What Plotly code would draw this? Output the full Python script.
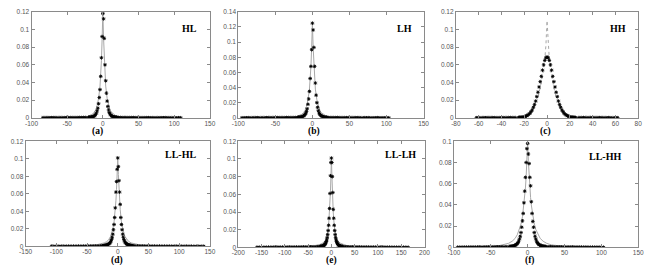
import plotly.graph_objects as go

W, H = 654, 265

# ---------------- data ----------------
# (a) HL
a_core_x = list(range(-20, 21))
a_core_y = [0.0006, 0.0007, 0.0008, 0.0009, 0.0010, 0.0012, 0.0015, 0.0018, 0.0022, 0.0030,
            0.0040, 0.0055, 0.0080, 0.0110, 0.0160, 0.0230, 0.0320, 0.0470, 0.0680, 0.0920,
            0.1180,
            0.1120, 0.0900, 0.0600, 0.0420, 0.0280, 0.0190, 0.0130, 0.0090, 0.0060, 0.0045,
            0.0033, 0.0025, 0.0019, 0.0015, 0.0012, 0.0010, 0.0009, 0.0008, 0.0007, 0.0006]
a_tail_lx = list(range(-84, -21, 3))
a_tail_ly = [0.0002, 0.0002, 0.0003, 0.0002, 0.0003, 0.0003, 0.0003, 0.0002, 0.0003, 0.0003,
             0.0003, 0.0004, 0.0003, 0.0004, 0.0004, 0.0004, 0.0004, 0.0005, 0.0004, 0.0005, 0.0005]
a_tail_rx = list(range(22, 111, 3))
a_tail_ry = [0.0005, 0.0005, 0.0004, 0.0005, 0.0004, 0.0004, 0.0004, 0.0004, 0.0003, 0.0004,
             0.0003, 0.0003, 0.0003, 0.0003, 0.0003, 0.0002, 0.0003, 0.0002, 0.0003, 0.0002,
             0.0002, 0.0002, 0.0003, 0.0002, 0.0002, 0.0002, 0.0002, 0.0001, 0.0002, 0.0002]
a_fit_x = [-85, -60, -45, -35, -28, -22, -18, -15, -12, -10, -8, -6, -4, -3, -2, -1, 0,
           1, 2, 3, 4, 6, 8, 10, 12, 15, 18, 22, 28, 35, 45, 60, 85, 110]
a_fit_y = [0.0001, 0.0002, 0.0004, 0.0007, 0.0011, 0.0016, 0.0025, 0.0040, 0.0065, 0.0090,
           0.0140, 0.0220, 0.0360, 0.0480, 0.0650, 0.0900, 0.1200,
           0.0900, 0.0650, 0.0480, 0.0360, 0.0220, 0.0140, 0.0090, 0.0065, 0.0040, 0.0025,
           0.0016, 0.0011, 0.0007, 0.0004, 0.0002, 0.0001, 0.0001]

# (b) LH
b_core_x = list(range(-20, 21))
b_core_y = [0.0006, 0.0007, 0.0008, 0.0009, 0.0011, 0.0013, 0.0016, 0.0020, 0.0026, 0.0034,
            0.0045, 0.0060, 0.0085, 0.0120, 0.0180, 0.0250, 0.0350, 0.0520, 0.0680, 0.0900,
            0.1250,
            0.1160, 0.0930, 0.0680, 0.0460, 0.0300, 0.0200, 0.0140, 0.0095, 0.0065, 0.0048,
            0.0036, 0.0028, 0.0022, 0.0017, 0.0014, 0.0011, 0.0009, 0.0008, 0.0007, 0.0006]
b_tail_lx = list(range(-95, -21, 3))
b_tail_ly = [0.0002, 0.0002, 0.0002, 0.0003, 0.0002, 0.0003, 0.0003, 0.0003, 0.0002, 0.0003,
             0.0003, 0.0003, 0.0004, 0.0003, 0.0004, 0.0004, 0.0004, 0.0004, 0.0005, 0.0004,
             0.0005, 0.0005, 0.0005, 0.0005, 0.0005]
b_tail_rx = list(range(22, 106, 3))
b_tail_ry = [0.0005, 0.0005, 0.0005, 0.0004, 0.0005, 0.0004, 0.0004, 0.0004, 0.0003, 0.0004,
             0.0003, 0.0003, 0.0003, 0.0003, 0.0003, 0.0002, 0.0003, 0.0002, 0.0003, 0.0002,
             0.0002, 0.0002, 0.0003, 0.0002, 0.0002, 0.0002, 0.0002, 0.0002]
b_fit_x = [-95, -60, -45, -35, -28, -22, -18, -15, -12, -10, -8, -6, -4, -3, -2, -1, 0,
           1, 2, 3, 4, 6, 8, 10, 12, 15, 18, 22, 28, 35, 45, 60, 80, 105]
b_fit_y = [0.0001, 0.0002, 0.0004, 0.0007, 0.0012, 0.0018, 0.0028, 0.0043, 0.0070, 0.0098,
           0.0150, 0.0240, 0.0380, 0.0510, 0.0680, 0.0930, 0.1250,
           0.0930, 0.0680, 0.0510, 0.0380, 0.0240, 0.0150, 0.0098, 0.0070, 0.0043, 0.0028,
           0.0018, 0.0012, 0.0007, 0.0004, 0.0002, 0.0001, 0.0001]

# (c) HH
c_core_x = list(range(-25, 26))
c_core_y = [0.0005, 0.0006, 0.0007, 0.0008, 0.0010, 0.0013, 0.0017, 0.0023, 0.0030, 0.0040,
            0.0052, 0.0070, 0.0090, 0.0120, 0.0150, 0.0190, 0.0240, 0.0290, 0.0350, 0.0410,
            0.0470, 0.0540, 0.0600, 0.0650, 0.0680,
            0.0690,
            0.0680, 0.0650, 0.0600, 0.0540, 0.0470, 0.0410, 0.0350, 0.0290, 0.0240, 0.0190,
            0.0150, 0.0120, 0.0090, 0.0070, 0.0052, 0.0040, 0.0030, 0.0023, 0.0017, 0.0013,
            0.0010, 0.0008, 0.0007, 0.0006, 0.0005]
c_tail_lx = list(range(-62, -26, 2))
c_tail_ly = [0.0002, 0.0002, 0.0002, 0.0003, 0.0002, 0.0003, 0.0003, 0.0003, 0.0003, 0.0003,
             0.0003, 0.0004, 0.0003, 0.0004, 0.0004, 0.0004, 0.0004, 0.0004]
c_tail_rx = list(range(28, 63, 2))
c_tail_ry = [0.0004, 0.0004, 0.0004, 0.0004, 0.0003, 0.0004, 0.0003, 0.0003, 0.0003, 0.0003,
             0.0003, 0.0003, 0.0002, 0.0003, 0.0002, 0.0002, 0.0002, 0.0002]
c_fit_x = [-62, -40, -30, -25, -20, -16, -12, -10, -8, -6, -5, -4, -3, -2, -1, 0,
           1, 2, 3, 4, 5, 6, 8, 10, 12, 16, 20, 25, 30, 40, 62]
c_fit_y = [0.0000, 0.0001, 0.0006, 0.0015, 0.0030, 0.0060, 0.0120, 0.0170, 0.0240, 0.0340,
           0.0400, 0.0470, 0.0550, 0.0660, 0.0820, 0.1100,
           0.0820, 0.0660, 0.0550, 0.0470, 0.0400, 0.0340, 0.0240, 0.0170, 0.0120, 0.0060,
           0.0030, 0.0015, 0.0006, 0.0001, 0.0000]

# (d) LL-HL
d_core_x = list(range(-25, 26))
d_core_y = [0.0007, 0.0008, 0.0009, 0.0010, 0.0011, 0.0012, 0.0014, 0.0016, 0.0019, 0.0022,
            0.0026, 0.0031, 0.0038, 0.0048, 0.0062, 0.0080, 0.0105, 0.0140, 0.0190, 0.0250,
            0.0330, 0.0440, 0.0620, 0.0740, 0.0880,
            0.1010,
            0.0910, 0.0750, 0.0620, 0.0480, 0.0330, 0.0250, 0.0190, 0.0140, 0.0105, 0.0080,
            0.0062, 0.0048, 0.0038, 0.0031, 0.0026, 0.0022, 0.0019, 0.0016, 0.0014, 0.0012,
            0.0011, 0.0010, 0.0009, 0.0008, 0.0007]
d_tail_lx = list(range(-108, -27, 4))
d_tail_ly = [0.0002, 0.0002, 0.0002, 0.0002, 0.0003, 0.0002, 0.0003, 0.0003, 0.0003, 0.0003,
             0.0003, 0.0004, 0.0003, 0.0004, 0.0004, 0.0004, 0.0005, 0.0005, 0.0005, 0.0006, 0.0006]
d_tail_rx = list(range(28, 144, 4))
d_tail_ry = [0.0006, 0.0006, 0.0005, 0.0005, 0.0005, 0.0004, 0.0004, 0.0004, 0.0004, 0.0003,
             0.0004, 0.0003, 0.0003, 0.0003, 0.0003, 0.0003, 0.0002, 0.0003, 0.0002, 0.0002,
             0.0002, 0.0002, 0.0002, 0.0002, 0.0002, 0.0001, 0.0002, 0.0001, 0.0002]
d_fit_x = [-108, -80, -60, -45, -35, -28, -22, -18, -15, -12, -10, -8, -6, -4, -3, -2, -1, 0,
           1, 2, 3, 4, 6, 8, 10, 12, 15, 18, 22, 28, 35, 45, 60, 80, 110, 143]
d_fit_y = [0.0001, 0.0003, 0.0006, 0.0011, 0.0018, 0.0027, 0.0040, 0.0055, 0.0075, 0.0110,
           0.0145, 0.0200, 0.0280, 0.0420, 0.0520, 0.0650, 0.0820, 0.1000,
           0.0820, 0.0650, 0.0520, 0.0420, 0.0280, 0.0200, 0.0145, 0.0110, 0.0075, 0.0055,
           0.0040, 0.0027, 0.0018, 0.0011, 0.0006, 0.0003, 0.0001, 0.0001]

# (e) LL-LH
e_core_x = list(range(-25, 26))
e_core_y = [0.0008, 0.0009, 0.0010, 0.0011, 0.0012, 0.0013, 0.0015, 0.0017, 0.0020, 0.0024,
            0.0028, 0.0034, 0.0042, 0.0052, 0.0066, 0.0085, 0.0110, 0.0145, 0.0190, 0.0250,
            0.0330, 0.0440, 0.0610, 0.0810, 0.0960,
            0.1010,
            0.0960, 0.0800, 0.0620, 0.0430, 0.0330, 0.0250, 0.0190, 0.0145, 0.0110, 0.0085,
            0.0066, 0.0052, 0.0042, 0.0034, 0.0028, 0.0024, 0.0020, 0.0017, 0.0015, 0.0013,
            0.0012, 0.0011, 0.0010, 0.0009, 0.0008]
e_tail_lx = list(range(-160, -27, 5))
e_tail_ly = [0.0002, 0.0002, 0.0002, 0.0002, 0.0002, 0.0003, 0.0002, 0.0003, 0.0003, 0.0003,
             0.0003, 0.0003, 0.0003, 0.0004, 0.0003, 0.0004, 0.0004, 0.0004, 0.0004, 0.0005,
             0.0005, 0.0005, 0.0005, 0.0006, 0.0006, 0.0006, 0.0007]
e_tail_rx = list(range(30, 166, 5))
e_tail_ry = [0.0007, 0.0006, 0.0006, 0.0006, 0.0005, 0.0005, 0.0005, 0.0004, 0.0004, 0.0004,
             0.0004, 0.0003, 0.0004, 0.0003, 0.0003, 0.0003, 0.0003, 0.0003, 0.0002, 0.0003,
             0.0002, 0.0002, 0.0002, 0.0002, 0.0002, 0.0002, 0.0002, 0.0001]
e_fit_x = [-160, -120, -90, -65, -50, -40, -32, -25, -20, -16, -12, -10, -8, -6, -4, -3, -2, -1, 0,
           1, 2, 3, 4, 6, 8, 10, 12, 16, 20, 25, 32, 40, 50, 65, 90, 120, 165]
e_fit_y = [0.0001, 0.0002, 0.0004, 0.0007, 0.0011, 0.0016, 0.0023, 0.0033, 0.0045, 0.0060,
           0.0090, 0.0120, 0.0170, 0.0250, 0.0390, 0.0500, 0.0640, 0.0820, 0.1010,
           0.0820, 0.0640, 0.0500, 0.0390, 0.0250, 0.0170, 0.0120, 0.0090, 0.0060, 0.0045,
           0.0033, 0.0023, 0.0016, 0.0011, 0.0007, 0.0004, 0.0002, 0.0001]

# (f) LL-HH
f_core_x = list(range(-25, 26))
f_core_y = [0.0007, 0.0008, 0.0009, 0.0010, 0.0011, 0.0012, 0.0014, 0.0017, 0.0020, 0.0024,
            0.0029, 0.0036, 0.0046, 0.0060, 0.0080, 0.0105, 0.0140, 0.0190, 0.0250, 0.0320,
            0.0420, 0.0530, 0.0660, 0.0800, 0.0930,
            0.0980,
            0.0880, 0.0790, 0.0660, 0.0580, 0.0430, 0.0320, 0.0245, 0.0190, 0.0140, 0.0105,
            0.0080, 0.0060, 0.0046, 0.0036, 0.0029, 0.0024, 0.0020, 0.0017, 0.0014, 0.0012,
            0.0011, 0.0010, 0.0009, 0.0008, 0.0007]
f_tail_lx = list(range(-95, -27, 3))
f_tail_ly = [0.0002, 0.0002, 0.0002, 0.0003, 0.0002, 0.0003, 0.0003, 0.0003, 0.0003, 0.0003,
             0.0004, 0.0003, 0.0004, 0.0004, 0.0004, 0.0004, 0.0005, 0.0005, 0.0005, 0.0005,
             0.0006, 0.0006, 0.0006]
f_tail_rx = list(range(28, 106, 3))
f_tail_ry = [0.0006, 0.0006, 0.0006, 0.0005, 0.0005, 0.0005, 0.0004, 0.0004, 0.0004, 0.0004,
             0.0003, 0.0004, 0.0003, 0.0003, 0.0003, 0.0003, 0.0002, 0.0003, 0.0002, 0.0002,
             0.0002, 0.0002, 0.0002, 0.0002, 0.0002, 0.0001]
f_fit_x = [-95, -70, -50, -40, -32, -26, -21, -17, -14, -11, -9, -7, -5, -4, -3, -2, -1, 0,
           1, 2, 3, 4, 5, 7, 9, 11, 14, 17, 21, 26, 32, 40, 50, 70, 105]
f_fit_y = [0.0001, 0.0003, 0.0008, 0.0014, 0.0024, 0.0038, 0.0058, 0.0085, 0.0120, 0.0170,
           0.0220, 0.0290, 0.0400, 0.0470, 0.0560, 0.0670, 0.0810, 0.1000,
           0.0810, 0.0670, 0.0560, 0.0470, 0.0400, 0.0290, 0.0220, 0.0170, 0.0120, 0.0085,
           0.0058, 0.0038, 0.0024, 0.0014, 0.0008, 0.0003, 0.0001]

# axis tick values / labels
a_xticks = [-100, -50, 0, 50, 100, 150]
b_xticks = [-100, -50, 0, 50, 100, 150]
c_xticks = [-80, -60, -40, -20, 0, 20, 40, 60, 80]
d_xticks = [-150, -100, -50, 0, 50, 100, 150]
e_xticks = [-200, -150, -100, -50, 0, 50, 100, 150, 200]
f_xticks = [-100, -50, 0, 50, 100, 150]
a_yticks = [0, 0.02, 0.04, 0.06, 0.08, 0.1, 0.12]
b_yticks = [0, 0.02, 0.04, 0.06, 0.08, 0.1, 0.12, 0.14]
c_yticks = [0, 0.02, 0.04, 0.06, 0.08, 0.1, 0.12]
d_yticks = [0, 0.02, 0.04, 0.06, 0.08, 0.1, 0.12]
e_yticks = [0, 0.02, 0.04, 0.06, 0.08, 0.1, 0.12]
f_yticks = [0, 0.02, 0.04, 0.06, 0.08, 0.1]

band_names = ["HL", "LH", "HH", "LL-HL", "LL-LH", "LL-HH"]
panel_tags = ["(a)", "(b)", "(c)", "(d)", "(e)", "(f)"]

# ---------------- layout geometry (pixels) ----------------
boxes = [(25, 207, 8, 117), (236, 425, 8, 117), (458, 644, 8, 117),
         (19, 207, 141, 249), (236, 426, 141, 250), (456, 644, 141, 250)]
name_pos = [(186, 25), (406, 25), (623, 25), (177, 155), (401, 155), (610, 157)]
tag_pos = [(92, 131), (313, 131), (549, 131), (112, 263), (331, 263), (534, 263)]

panels = [
    (a_core_x, a_core_y, a_tail_lx, a_tail_ly, a_tail_rx, a_tail_ry, a_fit_x, a_fit_y, a_xticks, a_yticks, "solid"),
    (b_core_x, b_core_y, b_tail_lx, b_tail_ly, b_tail_rx, b_tail_ry, b_fit_x, b_fit_y, b_xticks, b_yticks, "solid"),
    (c_core_x, c_core_y, c_tail_lx, c_tail_ly, c_tail_rx, c_tail_ry, c_fit_x, c_fit_y, c_xticks, c_yticks, "dot"),
    (d_core_x, d_core_y, d_tail_lx, d_tail_ly, d_tail_rx, d_tail_ry, d_fit_x, d_fit_y, d_xticks, d_yticks, "solid"),
    (e_core_x, e_core_y, e_tail_lx, e_tail_ly, e_tail_rx, e_tail_ry, e_fit_x, e_fit_y, e_xticks, e_yticks, "solid"),
    (f_core_x, f_core_y, f_tail_lx, f_tail_ly, f_tail_rx, f_tail_ry, f_fit_x, f_fit_y, f_xticks, f_yticks, "solid"),
]

def fmt(v):
    return ("%g" % v)

fig = go.Figure()
layout = dict(width=W, height=H, margin=dict(l=0, r=0, t=0, b=0),
              paper_bgcolor="white", plot_bgcolor="white", showlegend=False,
              annotations=[])

axis_color = "#8a8a8a"
tick_font = dict(family="Liberation Sans, Arial, sans-serif", size=6.5, color="#555")

for i, p in enumerate(panels):
    cx, cy, lx, ly, rx, ry, fx, fy, xt, yt, dash = p
    n = "" if i == 0 else str(i + 1)
    xa, ya = "x" + n, "y" + n
    mx = lx + cx + rx
    my = ly + cy + ry
    fig.add_trace(go.Scatter(x=fx, y=fy, mode="lines", xaxis=xa, yaxis=ya,
                             line=dict(color="#a8a8a8", width=1, dash=dash)))
    fig.add_trace(go.Scatter(x=mx, y=my, mode="markers", xaxis=xa, yaxis=ya,
                             marker=dict(symbol="asterisk-open", size=3, color="black",
                                         line=dict(color="black", width=0.9))))
    l, r, t, b = boxes[i]
    layout["xaxis" + n] = dict(domain=[l / W, r / W], anchor=ya, range=[xt[0], xt[-1]],
                               tickmode="array", tickvals=xt, ticktext=[fmt(v) for v in xt],
                               showline=True, linecolor=axis_color, linewidth=1, mirror="ticks",
                               ticks="inside", ticklen=3, tickcolor=axis_color, tickwidth=1,
                               showgrid=False, zeroline=False, tickfont=tick_font, ticklabelstandoff=-1)
    layout["yaxis" + n] = dict(domain=[1 - b / H, 1 - t / H], anchor=xa, range=[yt[0], yt[-1]],
                               tickmode="array", tickvals=yt, ticktext=[fmt(v) for v in yt],
                               showline=True, linecolor=axis_color, linewidth=1, mirror="ticks",
                               ticks="inside", ticklen=3, tickcolor=axis_color, tickwidth=1,
                               showgrid=False, zeroline=False, tickfont=tick_font, ticklabelstandoff=0)
    nx, ny = name_pos[i]
    layout["annotations"].append(dict(x=nx / W, y=1 - ny / H, xref="paper", yref="paper",
                                      text="<b>%s</b>" % band_names[i], showarrow=False,
                                      font=dict(family="Liberation Serif, Times New Roman, serif",
                                                size=10, color="black"),
                                      xanchor="center", yanchor="middle"))
    tx, ty = tag_pos[i]
    layout["annotations"].append(dict(x=tx / W, y=1 - ty / H, xref="paper", yref="paper",
                                      text="<b>%s</b>" % panel_tags[i], showarrow=False,
                                      font=dict(family="Liberation Serif, Times New Roman, serif",
                                                size=9.5, color="black"),
                                      xanchor="center", yanchor="middle"))

fig.update_layout(**layout)
fig.write_html("out.html")
